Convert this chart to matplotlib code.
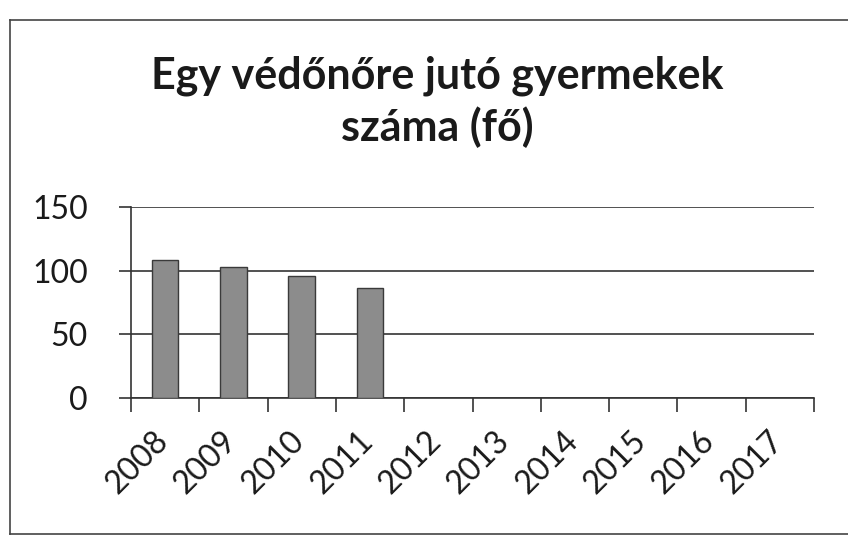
import matplotlib
matplotlib.use("Agg")
import matplotlib.pyplot as plt
from matplotlib.lines import Line2D

years = ["2008", "2009", "2010", "2011", "2012", "2013", "2014", "2015", "2016", "2017"]
values = [108.5, 103, 95.5, 86, None, None, None, None, None, None]
y_ticks = [0, 50, 100, 150]
title = "Egy védőnőre jutó gyermekek\nszáma (fő)"

plt.rcParams['font.family'] = ['Lato', 'DejaVu Sans']

W, H = 848, 536
fig = plt.figure(figsize=(W / 100, H / 100), dpi=100)
fig.patch.set_facecolor("white")

left, right, top, bottom = 131, 814, 207, 398
ax = fig.add_axes([left / W, 1 - bottom / H, (right - left) / W, (bottom - top) / H])

xs = [i for i, v in enumerate(values) if v is not None]
vs = [v for v in values if v is not None]
ax.bar(xs, vs, width=0.39, color="#8c8c8c", edgecolor="#3a3a3a", linewidth=1.0, zorder=3)

ax.set_xlim(-0.5, len(years) - 0.5)
ax.set_ylim(0, 150)
ax.set_yticks(y_ticks)
ax.set_yticklabels([str(t) for t in y_ticks], fontsize=23, color="#1a1a1a")
ax.yaxis.grid(True, color="#333333", linewidth=1.2, zorder=0)
ax.tick_params(axis="y", length=9, width=1.2, color="#333333", pad=22)

ax.set_xticks([i - 0.5 for i in range(len(years) + 1)])
ax.set_xticklabels([])
ax.tick_params(axis="x", which="major", length=10, width=1.2, color="#333333")
ax.set_xticks([i - 0.18 for i in range(len(years))], minor=True)
ax.set_xticklabels(years, minor=True, rotation=45, ha="right", va="top",
                   rotation_mode="anchor", fontsize=23, color="#1a1a1a")
ax.tick_params(axis="x", which="minor", length=0, pad=20)

for s in ["top", "right"]:
    ax.spines[s].set_visible(False)
ax.spines["left"].set_color("#333333")
ax.spines["left"].set_linewidth(1.2)
ax.spines["bottom"].set_color("#333333")
ax.spines["bottom"].set_linewidth(1.2)

fig.text(437 / W, 1 - 102 / H, title, ha="center", va="center",
         fontsize=31, fontweight="bold", color="#1a1a1a", linespacing=1.3)

# outer chart frame (partially visible in the scan)
fig.add_artist(Line2D([10 / W, 10 / W], [1 - 20 / H, 1 - 534 / H], transform=fig.transFigure,
                      color="#444444", linewidth=1.2))
fig.add_artist(Line2D([10 / W, 1.0], [1 - 20 / H, 1 - 20 / H], transform=fig.transFigure,
                      color="#444444", linewidth=1.2))
fig.add_artist(Line2D([10 / W, 1.0], [1 - 534 / H, 1 - 534 / H], transform=fig.transFigure,
                      color="#444444", linewidth=1.2))

fig.savefig("out.png", dpi=100, facecolor="white")
